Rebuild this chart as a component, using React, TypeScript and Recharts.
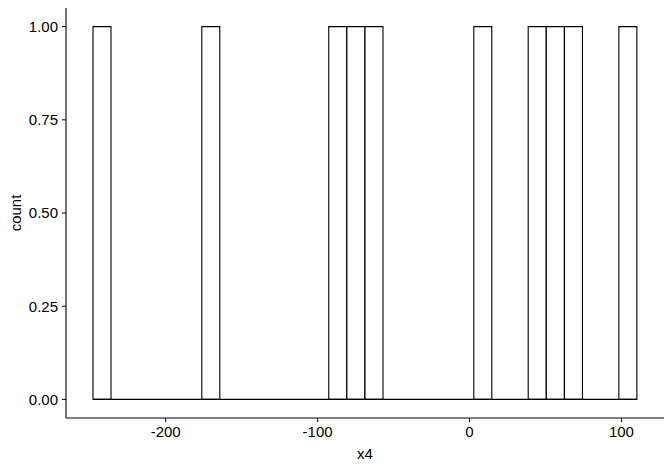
import {
  Bar,
  ComposedChart,
  Line,
  XAxis,
  YAxis,
} from "recharts";

// histogram of x4, 30 bins
const BIN_START = -247.7;
const BIN_WIDTH = 11.93;
const counts = [1, 0, 0, 0, 0, 0, 1, 0, 0, 0, 0, 0, 0, 1, 1, 1, 0, 0, 0, 0, 0, 1, 0, 0, 1, 1, 1, 0, 0, 1];
const xTicks = [-200, -100, 0, 100];
const yTicks = [0, 0.25, 0.5, 0.75, 1];
const xDomain = [-265.6, 128.0];
const yDomain = [-0.05, 1.05];

const data = counts.map((count, i) => ({
  mid: BIN_START + BIN_WIDTH * (i + 0.5),
  count,
}));
const binEnd = BIN_START + BIN_WIDTH * counts.length;
// empty bins are drawn flat along zero
const baseline = [
  { x: BIN_START, y: 0 },
  { x: binEnd, y: 0 },
];

const FONT = "'Liberation Sans', Arial, sans-serif";
const TICK = { fontSize: 15, fill: "#000", fontFamily: FONT };

export default function App() {
  return (
    <div style={{ position: "absolute", left: 0, top: 0, width: 672, height: 470, background: "#fff" }}>
      <ComposedChart
        width={672}
        height={470}
        data={data}
        margin={{ top: 8, right: 8, bottom: 22, left: 0 }}
        barCategoryGap={0}
        barGap={0}
      >
        <XAxis xAxisId="bin" dataKey="mid" hide height={0} padding={{ left: 27, right: 27 }} />
        <XAxis
          xAxisId="num"
          type="number"
          dataKey="x"
          domain={xDomain}
          ticks={xTicks}
          allowDataOverflow
          height={30}
          tick={TICK}
          tickSize={4}
          tickMargin={4}
          axisLine={{ stroke: "#000", strokeWidth: 1.1 }}
          tickLine={{ stroke: "#000" }}
          label={{
            value: "x4",
            position: "bottom",
            offset: 0,
            style: { fontSize: 15, fill: "#000", fontFamily: FONT },
          }}
        />
        <YAxis
          type="number"
          domain={yDomain}
          ticks={yTicks}
          allowDataOverflow
          width={66}
          tick={TICK}
          tickSize={4}
          tickMargin={4}
          tickFormatter={(v: number) => v.toFixed(2)}
          axisLine={{ stroke: "#000", strokeWidth: 1.1 }}
          tickLine={{ stroke: "#000" }}
          label={{
            content: ({ viewBox }: any) => (
              <text
                x={15}
                y={viewBox.y + viewBox.height / 2}
                transform={`rotate(-90 15 ${viewBox.y + viewBox.height / 2})`}
                textAnchor="middle"
                dominantBaseline="central"
                fontSize={15}
                fontFamily={FONT}
                fill="#000"
              >
                count
              </text>
            ),
          }}
        />
        <Line
          xAxisId="num"
          data={baseline}
          dataKey="y"
          stroke="#000"
          strokeWidth={1.1}
          dot={false}
          activeDot={false}
          isAnimationActive={false}
        />
        <Bar
          xAxisId="bin"
          dataKey="count"
          fill="#fff"
          stroke="#000"
          strokeWidth={1.1}
          isAnimationActive={false}
        />
      </ComposedChart>
    </div>
  );
}
